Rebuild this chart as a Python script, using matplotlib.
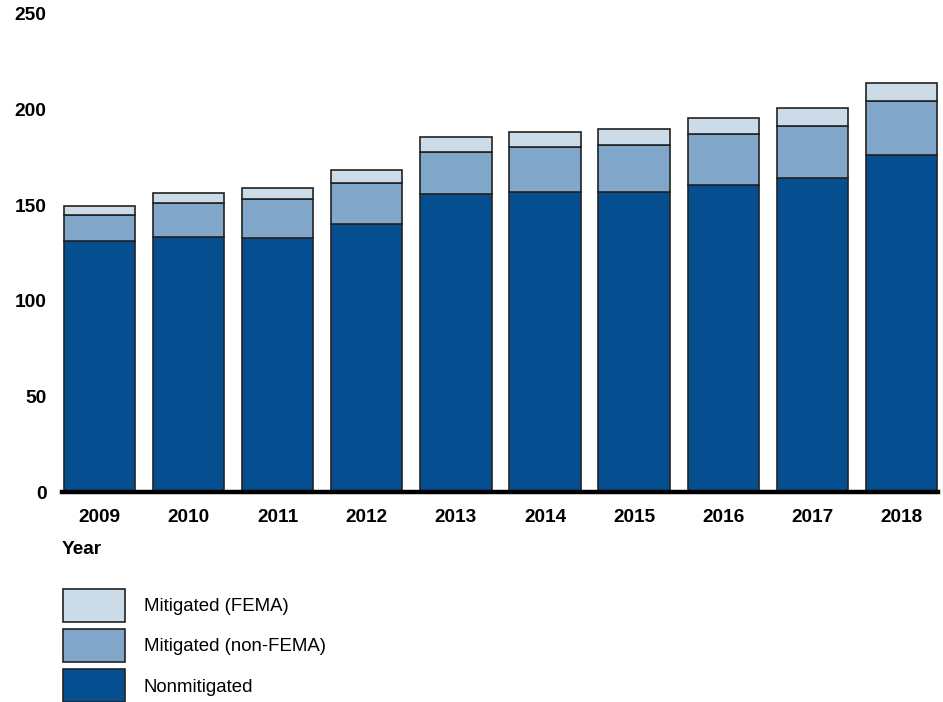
import matplotlib
matplotlib.use("Agg")
import matplotlib.pyplot as plt
import matplotlib.patches as mpatches
import numpy as np

plt.rcParams['font.family'] = ['Liberation Sans', 'DejaVu Sans']

years = ['2009', '2010', '2011', '2012', '2013', '2014', '2015', '2016', '2017', '2018']
nonmitigated = [131.4, 133.3, 132.8, 140.1, 155.9, 156.7, 156.7, 160.5, 164.1, 176.0]
mitigated_non_fema = [13.4, 17.6, 20.4, 21.4, 22.0, 23.8, 24.8, 26.5, 27.4, 28.5]
mitigated_fema = [4.9, 5.2, 5.6, 6.8, 7.4, 7.8, 8.1, 8.7, 9.1, 9.5]
y_ticks = [0, 50, 100, 150, 200, 250]

c_dark = '#054f90'
c_mid = '#80a7c9'
c_light = '#cbdbe8'
edge = '#222222'

fig = plt.figure(figsize=(9.43, 7.02), dpi=100)
ax = fig.add_axes([0.0657, 0.2991, 0.929, 0.6814])

x = np.arange(len(years))
nm = np.array(nonmitigated)
nf = np.array(mitigated_non_fema)
fe = np.array(mitigated_fema)

w = 0.8
ax.bar(x, nm, width=w, color=c_dark, edgecolor=edge, linewidth=1.2)
ax.bar(x, nf, width=w, bottom=nm, color=c_mid, edgecolor=edge, linewidth=1.2)
ax.bar(x, fe, width=w, bottom=nm + nf, color=c_light, edgecolor=edge, linewidth=1.2)

ax.set_xlim(-0.42, 9.41)
ax.set_ylim(0, 250)
ax.set_yticks(y_ticks)
ax.set_yticklabels([str(v) for v in y_ticks], fontsize=13.8, fontweight='bold')
ax.set_xticks(x)
ax.set_xticklabels(years, fontsize=13.7, fontweight='bold')
ax.tick_params(axis='y', length=0, pad=11)
ax.tick_params(axis='x', length=0, pad=12.5)

for s in ['top', 'right', 'left']:
    ax.spines[s].set_visible(False)
ax.spines['bottom'].set_linewidth(3.2)
ax.spines['bottom'].set_color('black')

fig.text(62 / 943, 1 - 549 / 702, 'Year', fontsize=13.7, fontweight='bold', va='center', ha='left')

handles = [
    mpatches.Patch(facecolor=c_light, edgecolor=edge, linewidth=1.2, label='Mitigated (FEMA)'),
    mpatches.Patch(facecolor=c_mid, edgecolor=edge, linewidth=1.2, label='Mitigated (non-FEMA)'),
    mpatches.Patch(facecolor=c_dark, edgecolor=edge, linewidth=1.2, label='Nonmitigated'),
]
fig.legend(handles=handles, loc='upper left', bbox_to_anchor=(63 / 943, 1 - 589 / 702),
           frameon=False, fontsize=13.4, handlelength=3.35, handleheight=2.33,
           labelspacing=0.4, handletextpad=1.0, borderpad=0, borderaxespad=0)

fig.savefig('out.png', dpi=100)
